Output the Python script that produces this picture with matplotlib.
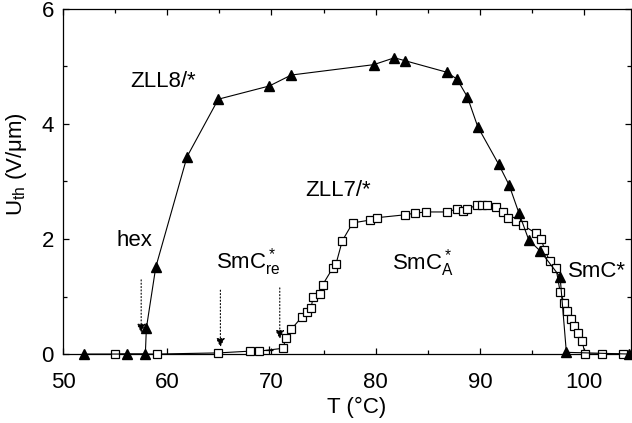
import numpy as np
import matplotlib
matplotlib.use('Agg')
import matplotlib.pyplot as plt

plt.rcParams['font.family'] = ['Liberation Sans', 'DejaVu Sans']
plt.rcParams['mathtext.fontset'] = 'custom'
plt.rcParams['mathtext.rm'] = 'Liberation Sans'
plt.rcParams['mathtext.it'] = 'Liberation Sans:italic'
plt.rcParams['font.size'] = 16

# ZLL8/* (triangles)
T_zll8 = [52.0, 56.1, 57.9, 58.0, 58.9, 61.9, 64.9, 69.8, 71.9, 79.8, 81.8, 82.8,
          86.8, 87.8, 88.8, 89.8, 91.8, 92.8, 93.75, 94.7, 95.8, 97.7, 98.3, 104.3]
U_zll8 = [0.0, 0.0, 0.0, 0.45, 1.51, 3.43, 4.43, 4.66, 4.85, 5.03, 5.15, 5.1,
          4.9, 4.78, 4.47, 3.95, 3.3, 2.94, 2.45, 1.98, 1.79, 1.34, 0.03, 0.0]

# ZLL7/* (squares)
T_zll7 = [55.0, 59.0, 64.9, 67.9, 68.8, 71.1, 71.4, 71.9, 72.9, 73.4, 73.8, 74.0,
          74.7, 74.9, 75.9, 76.2, 76.8, 77.8, 79.5, 80.1, 82.8, 83.8, 84.8, 86.8,
          87.8, 88.4, 88.8, 89.7, 90.2, 90.7, 91.5, 92.2, 92.7, 93.5, 94.1, 95.4,
          95.9, 96.2, 96.7, 97.3, 97.7, 98.1, 98.4, 98.7, 99.0, 99.4, 99.8, 100.1,
          101.7, 103.7]
U_zll7 = [0.0, 0.0, 0.02, 0.05, 0.05, 0.1, 0.28, 0.43, 0.64, 0.73, 0.8, 0.99,
          1.04, 1.2, 1.5, 1.57, 1.97, 2.28, 2.33, 2.37, 2.42, 2.45, 2.47, 2.47,
          2.52, 2.49, 2.52, 2.59, 2.59, 2.59, 2.55, 2.47, 2.37, 2.31, 2.24, 2.1,
          2.0, 1.81, 1.62, 1.5, 1.08, 0.89, 0.75, 0.61, 0.49, 0.37, 0.23, 0.0,
          0.0, 0.0]

T_plus = [69.8]
U_plus = [0.07]

# arrows: (T, U start, U tip)
arrow_T = [57.5, 65.1, 70.8]
arrow_U0 = [1.29, 1.11, 1.15]
arrow_U1 = [0.37, 0.12, 0.26]

fig = plt.figure(figsize=(6.32, 4.23), dpi=100)
ax = fig.add_axes([0.0997, 0.163, 0.8987, 0.816])

ax.plot(T_zll7, U_zll7, '-', color='black', lw=0.8, marker='s', ms=5.5,
        mfc='white', mec='black', mew=0.9, zorder=3, clip_on=False)
ax.plot(T_zll8, U_zll8, '-', color='black', lw=0.8, marker='^', ms=7.5,
        mfc='black', mec='black', zorder=4, clip_on=False)
ax.plot(T_plus, U_plus, '+', color='black', ms=6, mew=0.9, zorder=3)

for t, u0, u1 in zip(arrow_T, arrow_U0, arrow_U1):
    ax.annotate('', xy=(t, u1), xytext=(t, u0),
                arrowprops=dict(arrowstyle='-|>', linestyle=(0, (1, 2)), lw=0.8,
                                color='black', mutation_scale=13,
                                shrinkA=0, shrinkB=0))

ax.text(59.6, 4.73, 'ZLL8/*', ha='center', va='center')
ax.text(73.2, 2.85, 'ZLL7/*', ha='left', va='center')
ax.text(56.9, 1.98, 'hex', ha='center', va='center')
ax.text(64.7, 1.6, r'SmC$^*_{\rm re}$', ha='left', va='center')
ax.text(81.6, 1.58, r'SmC$^*_{\rm A}$', ha='left', va='center')
ax.text(98.5, 1.43, 'SmC*', ha='left', va='center')

ax.set_xlim(50, 104.5)
ax.set_ylim(0, 6)
ax.set_xticks([50, 60, 70, 80, 90, 100])
ax.set_xticks(np.arange(55, 105, 10), minor=True)
ax.set_yticks([0, 2, 4, 6])
ax.set_yticks([1, 3, 5], minor=True)
ax.tick_params(which='both', direction='in', top=True, right=True, width=0.9)
ax.tick_params(which='major', length=4.5)
ax.tick_params(which='minor', length=3)
ax.tick_params(axis='x', which='major', pad=13)
ax.tick_params(axis='y', which='major', pad=6.5)
for s in ax.spines.values():
    s.set_linewidth(0.9)

ax.set_xlabel('T (°C)', labelpad=3, x=0.517)
ax.set_ylabel(r'U$_{\rm th}$ (V/μm)', labelpad=9, y=0.55)

fig.savefig('out.png', dpi=100)
